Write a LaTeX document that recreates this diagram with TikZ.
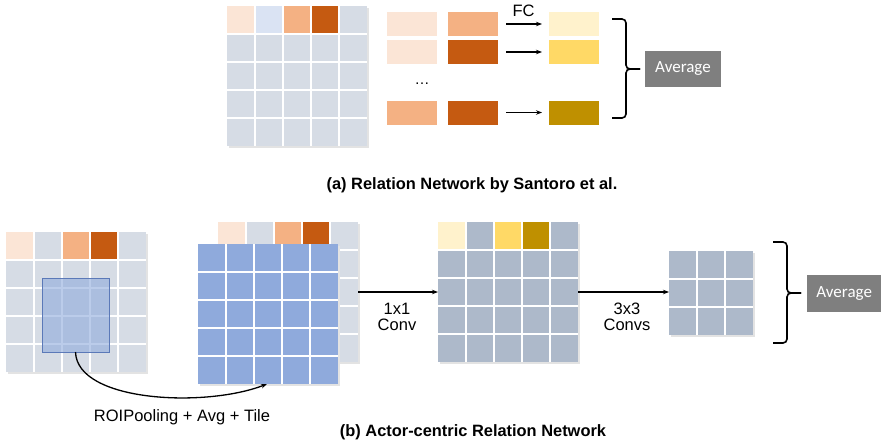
\documentclass[tikz,border=0pt]{standalone}
\usepackage{fontspec}
\setmainfont{Liberation Sans}
\newfontfamily\calib{Carlito}
\usetikzlibrary{arrows.meta,calc}
\definecolor{peach}{HTML}{FBE5D6}
\definecolor{lblue}{HTML}{DAE3F3}
\definecolor{orng}{HTML}{F4B183}
\definecolor{dorng}{HTML}{C55A11}
\definecolor{lgray}{HTML}{D6DCE5}
\definecolor{bgray}{HTML}{ADB9CA}
\definecolor{ly}{HTML}{FFF2CC}
\definecolor{my}{HTML}{FFD966}
\definecolor{dy}{HTML}{BF9000}
\definecolor{bluec}{HTML}{8FAADC}
\definecolor{roiedge}{HTML}{5B79B8}
\definecolor{avgc}{HTML}{7F7F7F}
\tikzset{
  gridnode/.style={draw=none,inner sep=0pt,outer sep=0pt,rectangle},
  cellbox/.style={draw=none,inner sep=0pt,outer sep=0pt,minimum width=50pt,minimum height=24pt},
  avgbox/.style={fill=avgc,text=white,inner sep=0pt,font=\calib\fontsize{17}{19}\selectfont},
  conn/.style={line width=1.3pt,-{Stealth[length=6pt,width=4.5pt]}},
  lbl/.style={font=\fontsize{16.5}{19}\selectfont,align=center},
  captext/.style={font=\bfseries\fontsize{16.4}{19}\selectfont},
  bracec/.style={line width=1.6pt,rounded corners=4pt}
}
% #1 name, #2 x, #3 y, #4 n, #5 base colour, #6 top row colours
\newcommand\featgrid[6]{%
  \fill[black!11] (#2+2,#3+2) rectangle ++(#4*28,#4*28);
  \node[gridnode,fill=#5,minimum size=#4*28pt,anchor=north west] (#1) at (#2,#3) {};
  \foreach \c [count=\i from 0] in {#6} \fill[\c] (#2+\i*28,#3) rectangle ++(28,28);
  \pgfmathtruncatemacro\nm{#4-1}%
  \foreach \k in {1,...,\nm}{
    \draw[white,line width=1.3pt] (#2+\k*28,#3) -- ++(0,#4*28);
    \draw[white,line width=1.3pt] (#2,#3+\k*28) -- ++(#4*28,0);
  }
}
\begin{document}
\begin{tikzpicture}[x=1pt,y=-1pt]
\useasboundingbox (0,0) rectangle (881,445);
% ---------- (a) ----------
\featgrid{ga}{227}{6}{5}{lgray}{peach,lblue,orng,dorng,lgray}
\node[cellbox,fill=peach] (a11) at (412,24) {};
\node[cellbox,fill=orng]  (a12) at (473,24) {};
\node[cellbox,fill=ly]    (a13) at (574,24) {};
\node[cellbox,fill=peach] (a21) at (412,52) {};
\node[cellbox,fill=dorng] (a22) at (473,52) {};
\node[cellbox,fill=my]    (a23) at (574,52) {};
\node[cellbox,fill=orng]  (a31) at (412,112.5) {};
\node[cellbox,fill=dorng] (a32) at (473,112.5) {};
\node[cellbox,fill=dy]    (a33) at (574,112.5) {};
\node[font=\fontsize{15}{18}\selectfont] (dots) at (422,84) {\dots};
\draw[conn,shorten <=8pt,shorten >=7pt] (a12) -- (a13) node[midway,above=3pt,lbl] (fc) {FC};
\draw[conn,shorten <=8pt,shorten >=7pt] (a22) -- (a23);
\draw[conn,shorten <=8pt,shorten >=7pt] (a32) -- (a33);
\coordinate (bat) at (612,19);
\coordinate (bab) at (612,118);
\coordinate (bam) at (640,69);
\draw[bracec] (bat) -- (626,19) -- (626,69) -- (bam);
\draw[bracec] (bab) -- (626,118) -- (626,69) -- (bam);
\node[avgbox,minimum width=76pt,minimum height=36pt] (avga) at (683,69) {Average};
\node[captext] (capa) at (472,185) {(a) Relation Network by Santoro et al.};
% ---------- (b) ----------
\featgrid{gb}{6}{232}{5}{lgray}{peach,lgray,orng,dorng,lgray}
\node[gridnode,draw=roiedge,line width=1pt,fill=bluec,fill opacity=0.6,minimum width=67pt,minimum height=74pt,anchor=north west] (roi) at (42,278) {};
\featgrid{back}{218}{222}{5}{lgray}{peach,lgray,orng,dorng,lgray}
\featgrid{front}{198}{244}{5}{bluec}{bluec,bluec,bluec,bluec,bluec}
\coordinate (tip) at ($(front.south west)+(69,0)$);
\draw[conn] (roi.south) .. controls (77,402) and (205,408) .. (tip);
\node[lbl] (roilbl) at (182,417) {ROIPooling + Avg + Tile};
\featgrid{mid}{438}{222}{5}{bgray}{ly,bgray,my,dy,bgray}
\draw[conn] (back.east) -- (mid.west);
\node[lbl] (c1) at (397,317) {1x1\\[-3pt]Conv};
\featgrid{small}{669}{251}{3}{bgray}{bgray,bgray,bgray}
\draw[conn] (mid.east) -- (mid.east -| small.west);
\node[lbl] (c3) at (627,317) {3x3\\[-3pt]Convs};
\coordinate (bbt) at (773,242);
\coordinate (bbb) at (773,343);
\coordinate (bbm) at (801,293);
\draw[bracec] (bbt) -- (787,242) -- (787,293) -- (bbm);
\draw[bracec] (bbb) -- (787,343) -- (787,293) -- (bbm);
\node[avgbox,minimum width=74pt,minimum height=37pt,anchor=west] (avgb) at (807,293.5) {Average};
\node[captext] (capb) at (473,432) {(b) Actor-centric Relation Network};
\end{tikzpicture}
\end{document}
